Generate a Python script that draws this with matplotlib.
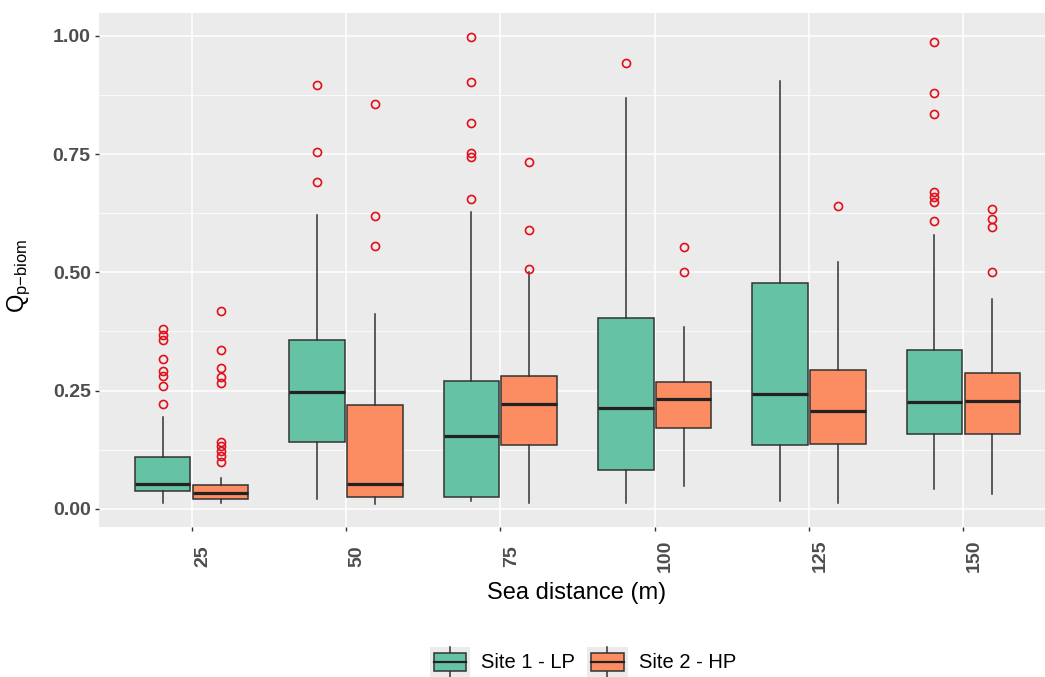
import matplotlib
matplotlib.use('Agg')
import matplotlib.pyplot as plt
from matplotlib.patches import Rectangle
from matplotlib.lines import Line2D
from matplotlib.legend_handler import HandlerBase
from matplotlib.transforms import ScaledTranslation

plt.rcParams['font.family'] = ['Liberation Sans', 'DejaVu Sans']
plt.rcParams['mathtext.fontset'] = 'custom'
plt.rcParams['mathtext.rm'] = 'Liberation Sans'
plt.rcParams['mathtext.it'] = 'Liberation Sans:italic'

# sea distance categories
distances = ['25', '50', '75', '100', '125', '150']

# Site 1 - LP box stats
site1_q1 = [0.038, 0.142, 0.025, 0.082, 0.134, 0.159]
site1_med = [0.052, 0.247, 0.154, 0.214, 0.243, 0.225]
site1_q3 = [0.109, 0.358, 0.271, 0.404, 0.478, 0.336]
site1_lo = [0.012, 0.020, 0.016, 0.012, 0.016, 0.041]
site1_hi = [0.194, 0.622, 0.628, 0.868, 0.904, 0.578]
site1_out = [
    [0.380, 0.368, 0.357, 0.317, 0.292, 0.280, 0.259, 0.222],
    [0.897, 0.755, 0.691],
    [0.997, 0.903, 0.815, 0.753, 0.744, 0.655],
    [0.942],
    [],
    [0.988, 0.879, 0.834, 0.669, 0.659, 0.649, 0.609],
]

# Site 2 - HP box stats
site2_q1 = [0.020, 0.025, 0.135, 0.170, 0.138, 0.159]
site2_med = [0.034, 0.052, 0.222, 0.232, 0.207, 0.229]
site2_q3 = [0.050, 0.220, 0.280, 0.269, 0.294, 0.287]
site2_lo = [0.012, 0.010, 0.012, 0.049, 0.012, 0.031]
site2_hi = [0.065, 0.413, 0.500, 0.384, 0.522, 0.443]
site2_out = [
    [0.418, 0.336, 0.298, 0.278, 0.266, 0.142, 0.132, 0.122, 0.111, 0.100],
    [0.855, 0.620, 0.556],
    [0.733, 0.589, 0.507],
    [0.553, 0.500],
    [0.641],
    [0.633, 0.613, 0.595, 0.500],
]

green = '#66C2A5'
orange = '#FC8D62'
edge = '#333333'


def make_stats(q1, med, q3, lo, hi, out):
    return [dict(q1=a, med=b, q3=c, whislo=d, whishi=e, fliers=f)
            for a, b, c, d, e, f in zip(q1, med, q3, lo, hi, out)]


fig = plt.figure(figsize=(10.45, 6.77), dpi=100)
# panel runs slightly past the right edge, as in the cropped reference
ax = fig.add_axes([99 / 1045, 1 - 527 / 677, (1056 - 99) / 1045, (527 - 13) / 677])
ax.set_facecolor('#EBEBEB')
for s in ax.spines.values():
    s.set_visible(False)

pos = list(range(1, len(distances) + 1))
series = [
    (make_stats(site1_q1, site1_med, site1_q3, site1_lo, site1_hi, site1_out), -0.1875, green),
    (make_stats(site2_q1, site2_med, site2_q3, site2_lo, site2_hi, site2_out), 0.1875, orange),
]
for stats, off, col in series:
    ax.bxp(stats, positions=[p + off for p in pos], widths=0.36,
           patch_artist=True, showcaps=False,
           boxprops=dict(facecolor=col, edgecolor=edge, linewidth=1.1),
           whiskerprops=dict(color=edge, linewidth=1.1),
           medianprops=dict(color='#222222', linewidth=2.3),
           flierprops=dict(marker='o', markerfacecolor='none',
                           markeredgecolor='#E0101A', markersize=5.8,
                           markeredgewidth=1.2),
           zorder=3)

ax.set_xlim(0.4, 6.6)
ax.set_ylim(-0.0385, 1.0485)
ax.set_xticks(pos)
ax.set_xticklabels(distances)
ax.set_yticks([0, 0.25, 0.5, 0.75, 1.0])
ax.set_yticklabels(['0.00', '0.25', '0.50', '0.75', '1.00'])
ax.set_yticks([0.125, 0.375, 0.625, 0.875], minor=True)
ax.grid(which='major', color='white', linewidth=1.1, zorder=0)
ax.grid(which='minor', axis='y', color='white', linewidth=0.55, zorder=0)
ax.set_axisbelow(True)

ax.tick_params(which='major', length=3, width=1, color=edge,
               labelsize=14, labelcolor='#4D4D4D')
ax.tick_params(which='minor', length=0)
ax.tick_params(axis='y', pad=3)
ax.tick_params(axis='x', pad=18)
for lbl in ax.get_yticklabels():
    lbl.set_fontweight('bold')
for lbl in ax.get_xticklabels():
    lbl.set_fontweight('bold')
    lbl.set_rotation(90)
    lbl.set_va('center')
    lbl.set_ha('center')
    lbl.set_transform(lbl.get_transform() + ScaledTranslation(0.11, 0, fig.dpi_scale_trans))

fig.text(577 / 1045, 1 - 593 / 677, 'Sea distance (m)', ha='center', va='center',
         fontsize=17, color='black')
fig.text(19 / 1045, 1 - 276 / 677, r'$\mathrm{Q}_{\mathrm{p{-}biom}}$', rotation=90,
         ha='center', va='center', fontsize=17, color='black')


class BoxKey(HandlerBase):
    def create_artists(self, legend, orig_handle, xdescent, ydescent,
                       width, height, fontsize, trans):
        x0, y0 = -xdescent, -ydescent
        bg = Rectangle((x0, y0), width, height, facecolor='#EBEBEB',
                       edgecolor='none', transform=trans)
        whisk = Line2D([x0 + width / 2] * 2, [y0, y0 + height], color=edge,
                       linewidth=1.1, transform=trans)
        box = Rectangle((x0 + 0.1 * width, y0 + 0.22 * height), 0.8 * width,
                        0.56 * height, facecolor=orig_handle, edgecolor=edge,
                        linewidth=1.1, transform=trans)
        med = Line2D([x0 + 0.1 * width, x0 + 0.9 * width], [y0 + height / 2] * 2,
                     color='#222222', linewidth=1.6, transform=trans)
        return [bg, whisk, box, med]


fig.legend([green, orange], ['Site 1 - LP', 'Site 2 - HP'],
           handler_map={str: BoxKey()}, loc='center',
           bbox_to_anchor=(583 / 1045, 1 - 662 / 677), ncol=2, frameon=False,
           fontsize=14.5, handlelength=2.0, handleheight=1.95,
           handletextpad=0.55, columnspacing=0.6, borderpad=0)

fig.savefig('out.png', dpi=100)
